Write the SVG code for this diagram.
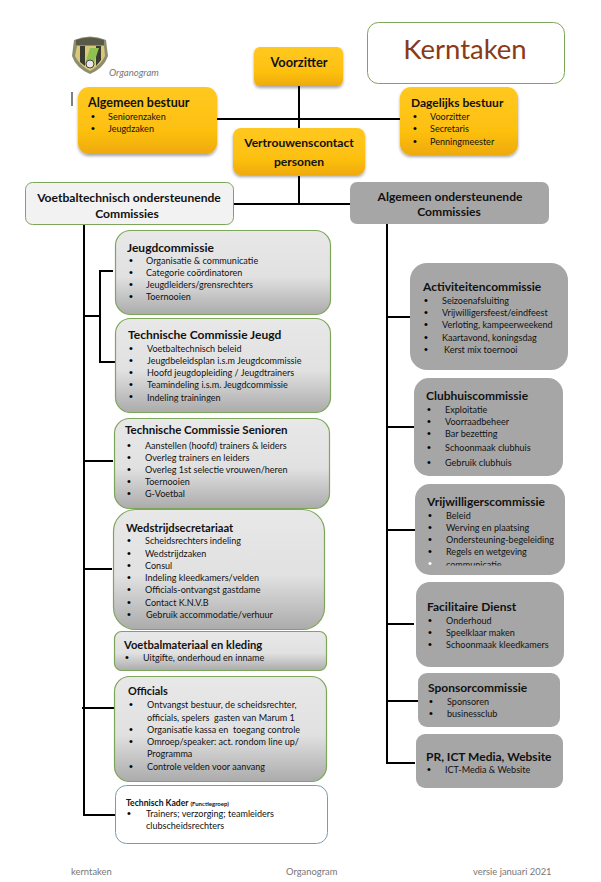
<svg xmlns="http://www.w3.org/2000/svg" width="601" height="882" viewBox="0 0 601 882">
<style>
text{font-family:Lato,"Liberation Sans",sans-serif;fill:#111}
.t{font-size:12px;font-weight:700}
.t2{font-size:12.1px;font-weight:700;text-anchor:middle}
.i{font-size:9.05px}
.b{font-size:11px;font-family:"Liberation Sans",sans-serif;fill:#000}
.f{font-size:9.4px;fill:#777}
.g{stroke:#7ea65a;stroke-width:1.2;fill:url(#gr)}
.o{fill:url(#or);filter:url(#sh)}
.d{fill:#a6a6a6}
.l{stroke:#000;stroke-width:2;fill:none}
</style>
<defs>
<linearGradient id="gr" x1="0" y1="0" x2="0" y2="1"><stop offset="0" stop-color="#e9e8e8"/><stop offset=".55" stop-color="#e2e1e1"/><stop offset="1" stop-color="#acabab"/></linearGradient>
<linearGradient id="or" x1="0" y1="0" x2="0" y2="1"><stop offset="0" stop-color="#ffc820"/><stop offset=".65" stop-color="#fdc010"/><stop offset="1" stop-color="#eeaa0a"/></linearGradient>
<filter id="sh" x="-10%" y="-10%" width="120%" height="125%"><feDropShadow dx="0" dy="2" stdDeviation="1.5" flood-color="#000" flood-opacity=".35"/></filter>
<clipPath id="c1"><rect x="415" y="484" width="150" height="81.500"/></clipPath>
<clipPath id="c2"><rect x="115" y="318" width="215" height="84.500"/></clipPath>
</defs>
<rect width="601" height="882" fill="#fff"/>
<g id="connectors" class="l">
<path d="M299 86V128M217 119H400M299 176V204M233 204H350"/>
<path d="M72 92V106" stroke-width="1"/>
<path d="M84 224V815H115M84 316H100M113 271H100V362H115M84 461H113M84 569H112M82 708H114"/>
<path d="M387 224V763H415M387 317H411M387 427H414M387 530H415M387 624H414M387 701H418"/>
</g>
<g id="logo">
<path d="M74 40Q90 33 106 40L108 56Q104 68 90 74Q76 68 72 56Z" fill="#8d8d70"/>
<path d="M77 46H104L105 56Q101 65 90 71Q79 65 75 56Z" fill="#d8c878"/>
<path d="M80 46H85V66L80 62ZM96 46H101V60L96 66Z" fill="#3a3a30"/>
<path d="M85 64L90 48H99L93 66Z" fill="#8fc050"/>
<circle cx="90" cy="64" r="4" fill="#e8e8e8" stroke="#444"/>
<path d="M76 40Q90 35 104 40V45H76Z" fill="#5a5a48"/>
<text x="109" y="76" style="font-size:9.6px;font-style:italic;fill:#777">Organogram</text>
</g>
<g id="kerntaken"><rect x="367.500" y="22.500" width="197" height="61" rx="11" fill="#fff" stroke="#7ea65a"/><text x="465" y="59" text-anchor="middle" style="font-size:27.500px;fill:#8a3a16">Kerntaken</text></g>
<g id="voorzitter"><rect class="o" x="254" y="47" width="89" height="39" rx="6"/><text class="t2" x="299" y="67" style="font-size:12.800px">Voorzitter</text></g>
<g id="algemeen-bestuur"><rect class="o" x="78" y="87" width="139" height="67" rx="11"/><text class="t" x="88" y="107" style="font-size:12.500px">Algemeen bestuur</text>
<text class="b" x="91" y="120">•</text><text class="i" x="108" y="120">Seniorenzaken</text><text class="b" x="91" y="132">•</text><text class="i" x="108" y="132">Jeugdzaken</text></g>
<g id="dagelijks-bestuur"><rect class="o" x="400" y="87" width="118" height="68" rx="11"/><text class="t" x="411" y="107">Dagelijks bestuur</text>
<text class="b" x="413" y="120">•</text><text class="i" x="430" y="120">Voorzitter</text><text class="b" x="413" y="132">•</text><text class="i" x="430" y="132">Secretaris</text><text class="b" x="413" y="145">•</text><text class="i" x="430" y="145">Penningmeester</text></g>
<g id="vertrouwens"><rect class="o" x="233" y="128" width="132" height="47" rx="8"/><text class="t2" x="299" y="147">Vertrouwenscontact</text><text class="t2" x="299" y="166">personen</text></g>
<g id="voetbaltechnisch"><rect x="25.500" y="182.500" width="208" height="42" rx="7" fill="#f2f2f2" stroke="#7ea65a"/><text class="t2" x="129" y="202">Voetbaltechnisch ondersteunende</text><text class="t2" x="127" y="218">Commissies</text></g>
<g id="algemeen-ondersteunend"><rect class="d" x="350" y="182" width="199" height="42" rx="7"/><text class="t2" x="450" y="201">Algemeen ondersteunende</text><text class="t2" x="449" y="216">Commissies</text></g>

<g id="jeugdcommissie"><rect class="g" x="115.500" y="230.500" width="215" height="84" rx="15"/><text class="t" x="127" y="252">Jeugdcommissie</text>
<text class="b" x="129" y="264">•</text><text class="i" x="146" y="264">Organisatie &amp; communicatie</text>
<text class="b" x="129" y="276">•</text><text class="i" x="146" y="276">Categorie coördinatoren</text>
<text class="b" x="129" y="288">•</text><text class="i" x="146" y="288">Jeugdleiders/grensrechters</text>
<text class="b" x="129" y="300">•</text><text class="i" x="146" y="300">Toernooien</text></g>
<g id="tc-jeugd"><rect class="g" x="115.500" y="318.500" width="215" height="94" rx="15"/><text class="t" x="128" y="339">Technische Commissie Jeugd</text>
<text class="b" x="129" y="352">•</text><text class="i" x="147" y="352">Voetbaltechnisch beleid</text>
<text class="b" x="129" y="364">•</text><text class="i" x="147" y="364">Jeugdbeleidsplan i.s.m Jeugdcommissie</text>
<text class="b" x="129" y="376">•</text><text class="i" x="147" y="376">Hoofd jeugdopleiding / Jeugdtrainers</text>
<text class="b" x="129" y="388">•</text><text class="i" x="147" y="388">Teamindeling i.s.m. Jeugdcommissie</text>
<text class="b" x="129" y="400">•</text><text class="i" x="147" y="401" clip-path="url(#c2)">Indeling trainingen</text></g>
<g id="tc-senioren"><rect class="g" x="114.500" y="418.500" width="215" height="90" rx="15"/><text class="t" x="125" y="434" style="font-size:11.500px">Technische Commissie Senioren</text>
<text class="b" x="127" y="449">•</text><text class="i" x="145" y="449">Aanstellen (hoofd) trainers &amp; leiders</text>
<text class="b" x="127" y="461">•</text><text class="i" x="145" y="461">Overleg trainers en leiders</text>
<text class="b" x="127" y="473">•</text><text class="i" x="145" y="473">Overleg 1st selectie vrouwen/heren</text>
<text class="b" x="127" y="485">•</text><text class="i" x="145" y="485">Toernooien</text>
<text class="b" x="127" y="497">•</text><text class="i" x="145" y="497">G-Voetbal</text></g>
<g id="wedstrijdsecretariaat"><rect class="g" x="113.500" y="509.500" width="211" height="120" rx="22"/><text class="t" x="126" y="532" style="font-size:11.200px">Wedstrijdsecretariaat</text>
<text class="b" x="127" y="544">•</text><text class="i" x="145" y="544">Scheidsrechters indeling</text>
<text class="b" x="127" y="557">•</text><text class="i" x="145" y="557">Wedstrijdzaken</text>
<text class="b" x="127" y="569">•</text><text class="i" x="145" y="569">Consul</text>
<text class="b" x="127" y="581">•</text><text class="i" x="145" y="581">Indeling kleedkamers/velden</text>
<text class="b" x="127" y="593">•</text><text class="i" x="145" y="593">Officials-ontvangst gastdame</text>
<text class="b" x="127" y="606">•</text><text class="i" x="145" y="606">Contact K.N.V.B</text>
<text class="b" x="127" y="618">•</text><text class="i" x="146" y="618">Gebruik accommodatie/verhuur</text></g>
<g id="voetbalmateriaal"><rect class="g" x="114.500" y="631.500" width="212" height="39" rx="7"/><text class="t" x="124" y="649" style="font-size:11.200px">Voetbalmateriaal en kleding</text>
<text class="b" x="125" y="661">•</text><text class="i" x="143" y="661">Uitgifte, onderhoud en inname</text></g>
<g id="officials"><rect class="g" x="114.500" y="676.500" width="212" height="105" rx="15"/><text class="t" x="128" y="695" style="font-size:10.900px">Officials</text>
<text class="b" x="129" y="708">•</text><text class="i" x="147" y="708">Ontvangst bestuur, de scheidsrechter,</text>
<text class="i" x="147" y="721" xml:space="preserve">officials, spelers  gasten van Marum 1</text>
<text class="b" x="129" y="733">•</text><text class="i" x="147" y="733" xml:space="preserve">Organisatie kassa en  toegang controle</text>
<text class="b" x="129" y="745">•</text><text class="i" x="147" y="745">Omroep/speaker: act. rondom line up/</text>
<text class="i" x="147" y="757">Programma</text>
<text class="b" x="129" y="770">•</text><text class="i" x="147" y="770">Controle velden voor aanvang</text></g>
<g id="technisch-kader"><rect x="115.500" y="785.500" width="212" height="58" rx="11" fill="#fff" stroke="#6f9fb8"/><text x="126" y="806" style="font-size:8.600px;font-weight:700">Technisch Kader <tspan style="font-size:6px">(Functiegroep)</tspan></text>
<text class="b" x="127" y="817">•</text><text class="i" x="146" y="817">Trainers; verzorging; teamleiders</text>
<text class="i" x="146" y="829">clubscheidsrechters</text></g>

<g id="activiteitencommissie"><rect class="d" x="410" y="263" width="158" height="107" rx="17"/><text class="t" x="423" y="291">Activiteitencommissie</text>
<text class="b" x="424" y="304">•</text><text class="i" x="442" y="304">Seizoenafsluiting</text>
<text class="b" x="424" y="316">•</text><text class="i" x="442" y="316">Vrijwilligersfeest/eindfeest</text>
<text class="b" x="424" y="328">•</text><text class="i" x="442" y="328">Verloting, kampeerweekend</text>
<text class="b" x="424" y="341">•</text><text class="i" x="442" y="341">Kaartavond, koningsdag</text>
<text class="b" x="424" y="353">•</text><text class="i" x="444" y="353">Kerst mix toernooi</text></g>
<g id="clubhuiscommissie"><rect class="d" x="414" y="378" width="149" height="98" rx="15"/><text class="t" x="426" y="400">Clubhuiscommissie</text>
<text class="b" x="427" y="413">•</text><text class="i" x="445" y="413">Exploitatie</text>
<text class="b" x="427" y="425">•</text><text class="i" x="445" y="425">Voorraadbeheer</text>
<text class="b" x="427" y="437">•</text><text class="i" x="445" y="437">Bar bezetting</text>
<text class="b" x="427" y="451">•</text><text class="i" x="445" y="451">Schoonmaak clubhuis</text>
<text class="b" x="427" y="466">•</text><text class="i" x="445" y="466">Gebruik clubhuis</text></g>
<g id="vrijwilligerscommissie"><rect class="d" x="415" y="484" width="150" height="91" rx="15"/><text class="t" x="427" y="506">Vrijwilligerscommissie</text>
<text class="b" x="428" y="519">•</text><text class="i" x="446" y="519">Beleid</text>
<text class="b" x="428" y="531">•</text><text class="i" x="446" y="531">Werving en plaatsing</text>
<text class="b" x="428" y="543">•</text><text class="i" x="446" y="543">Ondersteuning-begeleiding</text>
<text class="b" x="428" y="555">•</text><text class="i" x="446" y="555">Regels en wetgeving</text>
<text class="b" x="428" y="567" style="fill:#fff">•</text><text class="i" x="446" y="568" clip-path="url(#c1)">communicatie</text></g>
<g id="facilitaire-dienst"><rect class="d" x="416" y="582" width="148" height="85" rx="14"/><text class="t" x="427" y="611">Facilitaire Dienst</text>
<text class="b" x="428" y="624">•</text><text class="i" x="446" y="624">Onderhoud</text>
<text class="b" x="428" y="636">•</text><text class="i" x="446" y="636">Speelklaar maken</text>
<text class="b" x="428" y="648">•</text><text class="i" x="446" y="648">Schoonmaak kleedkamers</text></g>
<g id="sponsorcommissie"><rect class="d" x="418" y="673" width="142" height="54" rx="9"/><text class="t" x="428" y="692">Sponsorcommissie</text>
<text class="b" x="429" y="705">•</text><text class="i" x="447" y="705">Sponsoren</text>
<text class="b" x="429" y="717">•</text><text class="i" x="447" y="717">businessclub</text></g>
<g id="pr-ict"><rect class="d" x="416" y="734" width="147" height="54" rx="9"/><text class="t" x="426" y="761">PR, ICT Media, Website</text>
<text class="b" x="427" y="773">•</text><text class="i" x="445" y="773">ICT-Media &amp; Website</text></g>
<g id="footer"><text class="f" x="71" y="875">kerntaken</text><text class="f" x="286" y="875">Organogram</text><text class="f" x="473" y="875">versie januari 2021</text></g>
</svg>
